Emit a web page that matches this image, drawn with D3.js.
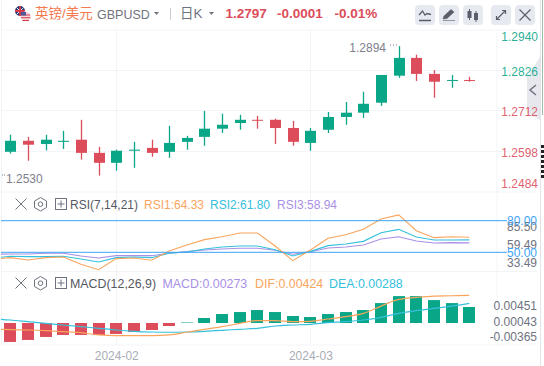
<!DOCTYPE html>
<html>
<head>
<meta charset="utf-8">
<script src="https://cdn.jsdelivr.net/npm/d3@7"></script>
<style>
  html, body { margin: 0; padding: 0; background: #fff; overflow: hidden; }
  svg { display: block; }
  text { font-family: "Liberation Sans", "Noto Sans CJK SC", sans-serif; }
</style>
</head>
<body>
<div id="chart"></div>
<script>
// candles
const months = ["2024-01","2024-01","2024-01","2024-01","2024-01","2024-01",
    "2024-02","2024-02","2024-02","2024-02","2024-02","2024-02","2024-02","2024-02","2024-02","2024-02","2024-02",
    "2024-03","2024-03","2024-03","2024-03","2024-03","2024-03","2024-03","2024-03","2024-03","2024-03"];
const opens  = [1.2597,1.2628,1.2619,1.2625,1.2631,1.2594,1.2566,1.2600,1.2608,1.2597,1.2625,1.2639,1.2662,1.2678,1.2687,1.2687,1.2664,1.2622,1.2659,1.2695,1.2707,1.2735,1.2811,1.2861,1.2816,1.2798,1.2799];
const highs  = [1.2645,1.2639,1.2645,1.2656,1.2687,1.2611,1.2603,1.2625,1.2631,1.2670,1.2642,1.2712,1.2704,1.2701,1.2698,1.2690,1.2684,1.2664,1.2709,1.2737,1.2766,1.2813,1.2894,1.2870,1.2827,1.2813,1.2808];
const lows   = [1.2592,1.2572,1.2601,1.2605,1.2575,1.2530,1.2544,1.2552,1.2583,1.2580,1.2603,1.2614,1.2650,1.2659,1.2662,1.2619,1.2614,1.2600,1.2650,1.2673,1.2692,1.2726,1.2805,1.2796,1.2749,1.2777,1.2794];
const closes = [1.2628,1.2617,1.2631,1.2628,1.2594,1.2566,1.2600,1.2603,1.2594,1.2622,1.2636,1.2662,1.2673,1.2687,1.2685,1.2664,1.2625,1.2656,1.2695,1.2707,1.2732,1.2813,1.2861,1.2816,1.2794,1.2799,1.2797];

// indicator lines have one extra leading point, off the left edge
const rsi1 = [43.37,44.95,42.74,44.95,45.58,38.63,33.49,44.0,44.63,42.42,51.26,56.95,62.0,64.84,68.32,68.32,56.0,42.1,52.2,63.3,66.7,71.8,81.6,85.5,70.5,63.9,64.8,64.33];
const rsi2 = [44.6,46.2,45.9,45.9,46.2,43.7,40.8,44.9,45.6,44.9,49.1,50.3,53.2,55.1,56.0,56.0,52.5,46.5,50.9,56.3,57.9,60.4,68.6,71.8,64.5,61.7,61.7,61.80];
const rsi3 = [48.1,48.4,48.4,49.1,49.1,46.5,44.6,46.8,46.8,46.8,49.1,50.6,52.2,53.2,53.8,53.8,51.9,48.1,50.6,54.1,55.1,56.9,62.6,64.8,60.7,58.8,59.2,58.94];

const macdBars = [-.00323,-.00289,-.00238,-.00204,-.00204,-.00204,-.00187,-.00153,-.00119,-.00051,.00009,.00085,.00153,.00187,.00221,.00187,.00119,.00102,.00153,.00187,.00221,.00340,.00459,.00459,.00391,.00340,.00273];
const dif = [-.00150,-.00161,-.00167,-.00178,-.00195,-.00212,-.00252,-.00263,-.00263,-.00263,-.00252,-.00206,-.00155,-.00110,-.00053,-.00008,-.00008,-.00025,-.00019,.00020,.00060,.00117,.00241,.00355,.00389,.00412,.00417,.00424];
const dea = [.00025,.00003,-.00025,-.00053,-.00082,-.00110,-.00138,-.00167,-.00189,-.00201,-.00206,-.00201,-.00189,-.00172,-.00155,-.00138,-.00099,-.00082,-.00070,-.00042,-.00025,.00003,.00049,.00117,.00162,.00202,.00241,.00288];

const priceTicks = [1.2940,1.2826,1.2712,1.2598,1.2484];
const rsiLevels = [80,50];
const rsiTicks = ["85.50","59.49","33.49"];
const macdTicks = ["0.00451","0.00043","-0.00365"];

const UP = "#0aa688", DOWN = "#dc4c5a", GRID = "#f3f4f8", LABEL = "#6f7380";
const ORANGE = "#f9a55e", BLUE = "#35c0dc", PURPLE = "#a98fe6", LEVEL = "#3ba4f5";

const width = 544, height = 366, plotRight = 497;
const svg = d3.select("#chart").append("svg").attr("width", width).attr("height", height);

svg.append("defs").append("clipPath").attr("id", "plot")
    .append("rect").attr("x", 1).attr("y", 0).attr("width", plotRight - 1).attr("height", height);

// scales
const x = d3.scaleLinear().domain([0, 26]).range([10.3, 469.3]);
const y = d3.scaleLinear().domain([1.2940, 1.2484]).range([29.8, 192]);
const rsiY = d3.scaleLinear().domain([50, 80]).range([252.3, 220.7]);
const rsiLabelY = d3.scalePoint().domain(rsiTicks).range([226.5, 263]);
const barY = d3.scaleLinear().domain([0, 0.00273]).range([323, 307]);
const lineY = d3.scaleLinear().domain([0, 0.00273]).range([320.2, 304.2]);
const macdLabelY = d3.scalePoint().domain(macdTicks).range([306, 337]);

// frame and grid
const grid = svg.append("g").attr("stroke", GRID).attr("fill", "none").attr("stroke-width", 1);
[30, 70.5, 110.5, 151.5, 192, 271.5, 345].forEach(v =>
    grid.append("line").attr("x1", 1).attr("x2", plotRight + 40).attr("y1", v).attr("y2", v));
[1.5, 116.5, 310.5, plotRight].forEach(v =>
    grid.append("line").attr("x1", v).attr("x2", v).attr("y1", v === 1.5 ? 0 : 30).attr("y2", 345));
svg.append("line").attr("x1", 540.5).attr("x2", 540.5).attr("y1", 0).attr("y2", 366).attr("stroke", "#e3e4e8");

// sliver of the neighbouring window on the right edge
svg.append("line").attr("x1", 542.5).attr("x2", 542.5).attr("y1", 0).attr("y2", 115).attr("stroke", "#9dbfa8");
svg.append("line").attr("x1", 542.5).attr("x2", 542.5).attr("y1", 145).attr("y2", 178)
    .attr("stroke", "#222").attr("stroke-width", 3).attr("stroke-dasharray", "3,2");

// collapse tab on the right edge, under the price labels
svg.append("path").attr("d", "M540 57 L527 77 V113 L540 120 Z").attr("fill", "#e7e8ee");
svg.append("path").attr("d", "M536 85 L530 90 L536 95").attr("stroke", "#6f7380").attr("stroke-width", 1.5).attr("fill", "none");

// candles
const candles = svg.append("g").selectAll("g")
    .data(d3.range(opens.length))
    .join("g")
    .attr("fill", i => closes[i] >= opens[i] ? UP : DOWN)
    .attr("stroke", i => closes[i] >= opens[i] ? UP : DOWN);

candles.append("line")
    .attr("stroke-width", 1.3)
    .attr("x1", i => Math.round(x(i)) + 0.5)
    .attr("x2", i => Math.round(x(i)) + 0.5)
    .attr("y1", i => y(highs[i]))
    .attr("y2", i => y(lows[i]));

candles.append("rect")
    .attr("stroke", "none")
    .attr("x", i => Math.round(x(i)) - 5)
    .attr("width", 11)
    .attr("y", i => y(Math.max(opens[i], closes[i])))
    .attr("height", i => Math.max(1, Math.abs(y(opens[i]) - y(closes[i]))));

// price axis labels, pushed inwards at the pane edges
svg.append("g").selectAll("text")
    .data(priceTicks)
    .join("text")
    .attr("x", 538)
    .attr("y", d => Math.max(37, Math.min(183.5, y(d) + 1.2)))
    .attr("dy", "0.35em")
    .attr("text-anchor", "end")
    .attr("font-size", 12)
    .attr("fill", d => d > 1.2797 ? UP : DOWN)
    .attr("fill-opacity", 0.9)
    .text(d => d.toFixed(4));

// high / low annotations
svg.append("text").attr("x", 386).attr("y", 52).attr("text-anchor", "end")
    .attr("font-size", 12).attr("fill", "#7d808c").text("1.2894");
svg.append("text").attr("x", 6).attr("y", 182.5)
    .attr("font-size", 12).attr("fill", "#7d808c").text("1.2530");
svg.append("line").attr("x1", 390).attr("x2", 399).attr("y1", 45).attr("y2", 45)
    .attr("stroke", "#7d808c").attr("stroke-dasharray", "1,2");
svg.append("line").attr("x1", 2).attr("x2", 5).attr("y1", 175).attr("y2", 175)
    .attr("stroke", "#7d808c").attr("stroke-dasharray", "1,1");

// RSI pane
const lineX = (d, i) => x(i - 1);
const rsiLine = d3.line().x(lineX).y(d => rsiY(d));
const rsiG = svg.append("g").attr("clip-path", "url(#plot)");

[[rsi3, PURPLE], [rsi2, BLUE], [rsi1, ORANGE]].forEach(([values, color]) =>
    rsiG.append("path").attr("d", rsiLine(values)).attr("fill", "none")
        .attr("stroke", color).attr("stroke-width", 1.1));

svg.append("g").selectAll("line").data(rsiLevels).join("line")
    .attr("x1", 1).attr("x2", plotRight + 10)
    .attr("y1", d => rsiY(d)).attr("y2", d => rsiY(d))
    .attr("stroke", LEVEL).attr("stroke-width", 1);

svg.append("g").selectAll("text").data(rsiTicks).join("text")
    .attr("x", 537).attr("y", d => rsiLabelY(d)).attr("dy", "0.35em")
    .attr("text-anchor", "end").attr("font-size", 12).attr("fill", LABEL)
    .text(d => d);
svg.append("g").selectAll("text").data(rsiLevels).join("text")
    .attr("x", 537).attr("y", d => rsiY(d)).attr("dy", "0.35em")
    .attr("text-anchor", "end").attr("font-size", 12).attr("fill", LEVEL)
    .text(d => d.toFixed(2));

// MACD pane
svg.append("g").selectAll("rect").data(macdBars).join("rect")
    .attr("x", (d, i) => Math.round(x(i)) - 6)
    .attr("width", 12)
    .attr("y", d => Math.min(barY(d), barY(0)))
    .attr("height", d => Math.abs(barY(d) - barY(0)))
    .attr("fill", d => d >= 0 ? UP : DOWN);

const macdLine = d3.line().x(lineX).y(d => lineY(d)).curve(d3.curveMonotoneX);
const macdG = svg.append("g").attr("clip-path", "url(#plot)");
[[dea, BLUE], [dif, ORANGE]].forEach(([values, color]) =>
    macdG.append("path").attr("d", macdLine(values)).attr("fill", "none")
        .attr("stroke", color).attr("stroke-width", 1.2));

svg.append("g").selectAll("text").data(macdTicks).join("text")
    .attr("x", 537).attr("y", d => macdLabelY(d)).attr("dy", "0.35em")
    .attr("text-anchor", "end").attr("font-size", 12).attr("fill", LABEL)
    .text(d => d);

// time axis, one label at the first bar of a month
const firstOfMonth = d3.range(months.length).filter(i => i > 0 && months[i] !== months[i - 1]);
const xAxis = svg.append("g").attr("transform", "translate(0,346)")
    .call(d3.axisBottom(x).tickValues(firstOfMonth).tickSize(0).tickPadding(5).tickFormat(i => months[i]));
xAxis.select(".domain").remove();
xAxis.selectAll("text").attr("font-size", 12).attr("font-family", null).attr("fill", "#a9acb6");

// pane headers
function paneHeader(top, name, items, fontSize) {
    const g = svg.append("g").attr("transform", `translate(0,${top})`);
    g.append("path").attr("d", "M15.5 4.5 L26.5 15.5 M26.5 4.5 L15.5 15.5").attr("stroke", LABEL).attr("fill", "none");
    g.append("path").attr("d", "M40.5 3.5 L46.5 7 L46.5 13.5 L40.5 17 L34.5 13.5 L34.5 7 Z")
        .attr("stroke", LABEL).attr("fill", "none");
    g.append("circle").attr("cx", 40.5).attr("cy", 10.2).attr("r", 2.3).attr("stroke", LABEL).attr("fill", "none");
    g.append("rect").attr("x", 55.5).attr("y", 4.5).attr("width", 11).attr("height", 11).attr("stroke", LABEL).attr("fill", "none");
    g.append("path").attr("d", "M61 6.5 V13.5 M57.5 10 H64.5").attr("stroke", LABEL).attr("fill", "none");
    g.append("text").attr("x", 70).attr("y", 14.5).attr("font-size", fontSize).attr("fill", "#555862").text(name);
    items.forEach(([label, posX, color]) =>
        g.append("text").attr("x", posX).attr("y", 14.5).attr("font-size", fontSize).attr("fill", color).text(label));
}
paneHeader(194, "RSI(7,14,21)", [["RSI1:64.33", 144, ORANGE], ["RSI2:61.80", 210, BLUE], ["RSI3:58.94", 277, PURPLE]], 12);
paneHeader(273, "MACD(12,26,9)", [["MACD:0.00273", 162.5, PURPLE], ["DIF:0.00424", 255, ORANGE], ["DEA:0.00288", 329, BLUE]], 12.4);

// top bar
const flag = svg.append("g");
flag.append("circle").attr("cx", 20).attr("cy", 11).attr("r", 5).attr("fill", "#24356f");
flag.append("path").attr("d", "M16.5 7.5 L23.5 14.5 M23.5 7.5 L16.5 14.5").attr("stroke", "#f2f2f2").attr("stroke-width", 1);
flag.append("path").attr("d", "M15 11 H25 M20 6 V16").attr("stroke", "#d83a4a").attr("stroke-width", 1.8);
flag.append("circle").attr("cx", 25.7).attr("cy", 16.5).attr("r", 5).attr("fill", "#f6d9dc");
flag.append("path").attr("d", "M21.2 15 H30.2 M21 17.8 H30.4 M22.5 20.5 H29").attr("stroke", "#d83a4a").attr("stroke-width", 1.1);
flag.append("rect").attr("x", 21).attr("y", 12).attr("width", 5).attr("height", 3.5).attr("fill", "#4a5a9a");

const titleBar = svg.append("g");
titleBar.append("text").attr("x", 35).attr("y", 18).attr("font-size", 13.5).attr("fill", "#f4794f").text("英镑/美元");
titleBar.append("text").attr("x", 97).attr("y", 18.5).attr("font-size", 12.5).attr("fill", "#6f7380").text("GBPUSD");
titleBar.append("path").attr("d", "M154 12 h5 l-2.5 3 z").attr("fill", "#6f7380");
titleBar.append("line").attr("x1", 170.5).attr("x2", 170.5).attr("y1", 8).attr("y2", 20).attr("stroke", "#c9ccd4");
titleBar.append("text").attr("x", 180).attr("y", 18).attr("font-size", 13.5).attr("fill", "#6f7380").text("日K");
titleBar.append("path").attr("d", "M209 12 h5 l-2.5 3 z").attr("fill", "#6f7380");
titleBar.append("text").attr("x", 225.5).attr("y", 18).attr("font-size", 13.5).attr("font-weight", "bold").attr("fill", DOWN).text("1.2797");
titleBar.append("text").attr("x", 277).attr("y", 18).attr("font-size", 13.5).attr("font-weight", "bold").attr("fill", DOWN).text("-0.0001");
titleBar.append("text").attr("x", 334.5).attr("y", 18).attr("font-size", 13.5).attr("font-weight", "bold").attr("fill", DOWN).text("-0.01%");

// toolbar buttons
const buttons = svg.append("g").selectAll("g").data([415, 439, 463, 491, 515]).join("g")
    .attr("transform", d => `translate(${d},5)`);
buttons.append("rect").attr("width", 20).attr("height", 20).attr("rx", 4).attr("fill", "#e7e9f0");
const icon = "#5b5e6a";
const button = i => d3.select(buttons.nodes()[i]);
button(0).append("path").attr("d", "M4 10 L7.5 6 L10 10 L12 8.5 L16 9.5 M4 15.5 H16").attr("stroke", icon).attr("fill", "none").attr("stroke-width", 1.3);
button(1).append("path").attr("d", "M4 14 L5 11 L12 4.5 L15 7 L8 13.5 Z M4 15.5 H16").attr("fill", icon).attr("stroke", icon).attr("stroke-width", 0.6);
button(2).append("path").attr("d", "M6.5 4 V15 M13 6 V17").attr("stroke", icon);
button(2).append("rect").attr("x", 4.5).attr("y", 6).attr("width", 4).attr("height", 7).attr("fill", icon);
button(2).append("rect").attr("x", 11).attr("y", 8).attr("width", 4).attr("height", 7).attr("fill", icon);
button(3).append("path").attr("d", "M6 14 L14 6 M11 5.5 H14.5 V9 M5.5 11 V14.5 H9").attr("stroke", icon).attr("fill", "none").attr("stroke-width", 1.2);
button(4).append("path").attr("d", "M4.5 4.5 L15.5 15.5 M15.5 4.5 L4.5 15.5").attr("stroke", icon).attr("fill", "none").attr("stroke-width", 1.2);
</script>
</body>
</html>
